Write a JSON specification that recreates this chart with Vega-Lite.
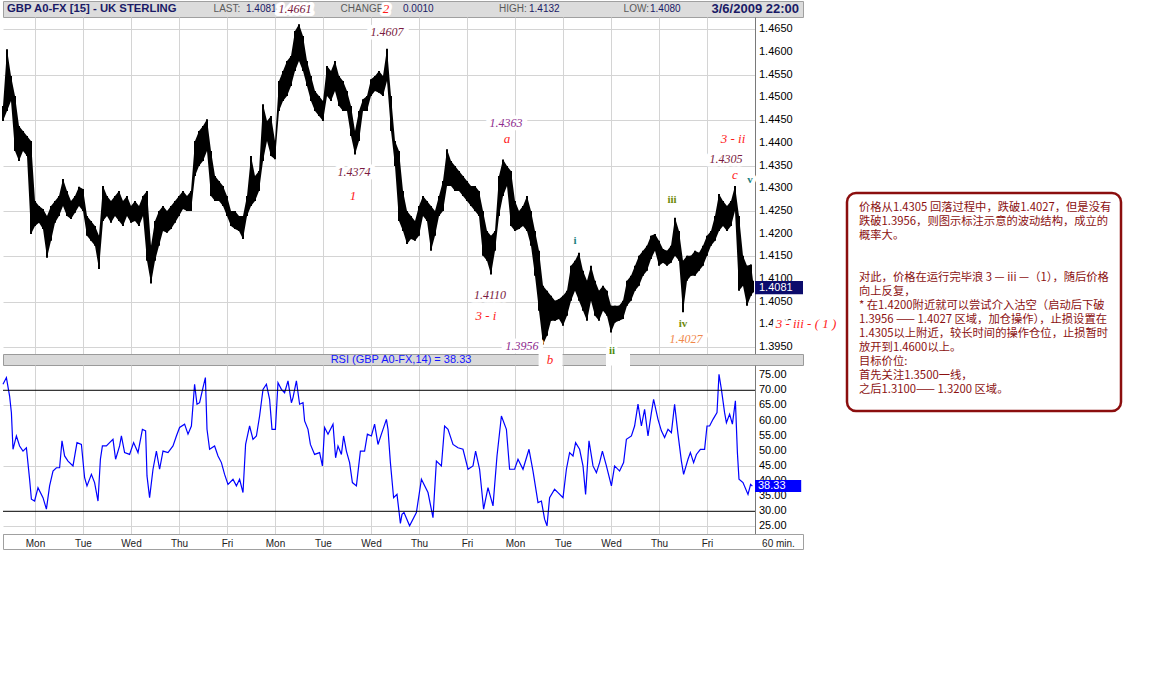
{
  "$schema": "https://vega.github.io/schema/vega-lite/v6.json",
  "padding": 0,
  "background": "white",
  "spacing": 8,
  "config": {"view": {"stroke": null}, "font": "Liberation Sans", "axis": {"labelOverlap": false}},
  "datasets": {
    "head": [
      {"h": 2, "t": "GBP A0-FX [15] - UK STERLING", "k": "name"},
      {"h": 105.3, "t": "LAST:", "k": "lab"},
      {"h": 121.5, "t": "1.4081", "k": "val"},
      {"h": 168.8, "t": "CHANGE", "k": "lab"},
      {"h": 200, "t": "0.0010", "k": "val"},
      {"h": 248, "t": "HIGH:", "k": "lab"},
      {"h": 263, "t": "1.4132", "k": "val"},
      {"h": 310.3, "t": "LOW:", "k": "lab"},
      {"h": 323.5, "t": "1.4080", "k": "val"},
      {"h": 398, "t": "3/6/2009 22:00", "k": "date"},
      {"h": 146, "t": "1.4661", "k": "lv"},
      {"h": 191.5, "t": "2", "k": "wv"}
    ],
    "strip": [
      {"h": 273.8, "t": "", "k": "box"},
      {"h": 307.5, "t": "", "k": "box"},
      {"h": 199, "t": "RSI (GBP A0-FX,14) = 38.33", "k": "title"},
      {"h": 273.5, "t": "b", "k": "b"},
      {"h": 304.5, "t": "ii", "k": "ii"}
    ],
    "pticks": [
      {"p": 1.395, "t": "1.3950"}, {"p": 1.4, "t": "1.4000"}, {"p": 1.405, "t": "1.4050"}, {"p": 1.41, "t": "1.4100"},
      {"p": 1.415, "t": "1.4150"}, {"p": 1.42, "t": "1.4200"}, {"p": 1.425, "t": "1.4250"}, {"p": 1.43, "t": "1.4300"},
      {"p": 1.435, "t": "1.4350"}, {"p": 1.44, "t": "1.4400"}, {"p": 1.445, "t": "1.4450"}, {"p": 1.45, "t": "1.4500"},
      {"p": 1.455, "t": "1.4550"}, {"p": 1.46, "t": "1.4600"}, {"p": 1.465, "t": "1.4650"}
    ],
    "rticks": [
      {"v": 25, "t": "25.00"}, {"v": 30, "t": "30.00"}, {"v": 35, "t": "35.00"}, {"v": 40, "t": "40.00"},
      {"v": 45, "t": "45.00"}, {"v": 50, "t": "50.00"}, {"v": 55, "t": "55.00"}, {"v": 60, "t": "60.00"},
      {"v": 65, "t": "65.00"}, {"v": 70, "t": "70.00"}, {"v": 75, "t": "75.00"}
    ],
    "lab": [
      {"h": 192, "p": 1.4644, "t": "1.4607", "c": "lv"},
      {"h": 175.5, "p": 1.4336, "t": "1.4374", "c": "lv"},
      {"h": 175, "p": 1.4283, "t": "1", "c": "wv"},
      {"h": 251.5, "p": 1.4444, "t": "1.4363", "c": "lp"},
      {"h": 252, "p": 1.4408, "t": "a", "c": "wv"},
      {"h": 243.5, "p": 1.4065, "t": "1.4110", "c": "lv"},
      {"h": 241.5, "p": 1.4019, "t": "3 - i", "c": "wv"},
      {"h": 259.5, "p": 1.3953, "t": "1.3956", "c": "lp"},
      {"h": 286, "p": 1.4184, "t": "i", "c": "rt"},
      {"h": 334.5, "p": 1.4274, "t": "iii", "c": "rg"},
      {"h": 340, "p": 1.4001, "t": "iv", "c": "rg"},
      {"h": 341.5, "p": 1.3968, "t": "1.4027", "c": "lo"},
      {"h": 365, "p": 1.4409, "t": "3 - ii", "c": "wv"},
      {"h": 361.5, "p": 1.4365, "t": "1.4305", "c": "lv"},
      {"h": 366, "p": 1.4329, "t": "c", "c": "wv"},
      {"h": 373.5, "p": 1.4318, "t": "v", "c": "rt"},
      {"h": 401.5, "p": 1.4001, "t": "3 - iii - ( 1 )", "c": "wv"}
    ],
    "note": [
      {"line": 0, "t": "价格从1.4305 回落过程中，跌破1.4027，但是没有"},
      {"line": 1, "t": "跌破1.3956，则图示标注示意的波动结构，成立的"},
      {"line": 2, "t": "概率大。"},
      {"line": 5, "t": "对此，价格在运行完毕浪 3 — iii —（1），随后价格"},
      {"line": 6, "t": "向上反复，"},
      {"line": 7, "t": "* 在1.4200附近就可以尝试介入沽空（启动后下破"},
      {"line": 8, "t": "1.3956 —— 1.4027 区域，加仓操作），止损设置在"},
      {"line": 9, "t": "1.4305以上附近，较长时间的操作仓位，止损暂时"},
      {"line": 10, "t": "放开到1.4600以上。"},
      {"line": 11, "t": "目标价位:"},
      {"line": 12, "t": "首先关注1.3500一线，"},
      {"line": 13, "t": "之后1.3100—— 1.3200 区域。"}
    ],
    "px": [
      {"h":0,"hi":1.4481,"lo":1.4448},{"h":2,"hi":1.4606,"lo":1.4470},{"h":4,"hi":1.4547,"lo":1.4492},{"h":6,"hi":1.4503,"lo":1.4382},
      {"h":8,"hi":1.4437,"lo":1.4360},{"h":10,"hi":1.4426,"lo":1.4382},{"h":12,"hi":1.4415,"lo":1.4371},{"h":14,"hi":1.4404,"lo":1.4199},
      {"h":16,"hi":1.4272,"lo":1.4217},{"h":18,"hi":1.4261,"lo":1.4224},{"h":20,"hi":1.4254,"lo":1.4210},{"h":22,"hi":1.4239,"lo":1.4147},
      {"h":24,"hi":1.4261,"lo":1.4184},{"h":26,"hi":1.4272,"lo":1.4224},{"h":28,"hi":1.4283,"lo":1.4239},{"h":30,"hi":1.4320,"lo":1.4261},
      {"h":32,"hi":1.4294,"lo":1.4239},{"h":34,"hi":1.4272,"lo":1.4232},{"h":36,"hi":1.4283,"lo":1.4246},{"h":38,"hi":1.4303,"lo":1.4261},
      {"h":40,"hi":1.4298,"lo":1.4250},{"h":42,"hi":1.4239,"lo":1.4195},{"h":44,"hi":1.4228,"lo":1.4184},{"h":46,"hi":1.4217,"lo":1.4173},
      {"h":48,"hi":1.4195,"lo":1.4122},{"h":50,"hi":1.4305,"lo":1.4228},{"h":52,"hi":1.4283,"lo":1.4239},{"h":54,"hi":1.4272,"lo":1.4224},
      {"h":56,"hi":1.4283,"lo":1.4239},{"h":58,"hi":1.4294,"lo":1.4228},{"h":60,"hi":1.4272,"lo":1.4217},{"h":62,"hi":1.4283,"lo":1.4239},
      {"h":64,"hi":1.4261,"lo":1.4224},{"h":66,"hi":1.4272,"lo":1.4228},{"h":68,"hi":1.4261,"lo":1.4217},{"h":70,"hi":1.4283,"lo":1.4239},
      {"h":72,"hi":1.4294,"lo":1.4140},{"h":74,"hi":1.4173,"lo":1.4090},{"h":76,"hi":1.4228,"lo":1.4140},{"h":78,"hi":1.4250,"lo":1.4173},
      {"h":80,"hi":1.4261,"lo":1.4206},{"h":82,"hi":1.4250,"lo":1.4202},{"h":84,"hi":1.4261,"lo":1.4210},{"h":86,"hi":1.4272,"lo":1.4224},
      {"h":88,"hi":1.4283,"lo":1.4239},{"h":90,"hi":1.4294,"lo":1.4254},{"h":92,"hi":1.4283,"lo":1.4250},{"h":94,"hi":1.4294,"lo":1.4250},
      {"h":96,"hi":1.4404,"lo":1.4327},{"h":98,"hi":1.4426,"lo":1.4349},{"h":100,"hi":1.4437,"lo":1.4360},{"h":102,"hi":1.4452,"lo":1.4382},
      {"h":104,"hi":1.4382,"lo":1.4283},{"h":106,"hi":1.4327,"lo":1.4272},{"h":108,"hi":1.4316,"lo":1.4272},{"h":110,"hi":1.4305,"lo":1.4261},
      {"h":112,"hi":1.4283,"lo":1.4239},{"h":114,"hi":1.4250,"lo":1.4217},{"h":116,"hi":1.4250,"lo":1.4210},{"h":118,"hi":1.4239,"lo":1.4206},
      {"h":120,"hi":1.4239,"lo":1.4188},{"h":122,"hi":1.4283,"lo":1.4239},{"h":124,"hi":1.4371,"lo":1.4261},{"h":126,"hi":1.4327,"lo":1.4272},
      {"h":128,"hi":1.4338,"lo":1.4294},{"h":130,"hi":1.4485,"lo":1.4360},{"h":132,"hi":1.4448,"lo":1.4404},{"h":134,"hi":1.4459,"lo":1.4371},
      {"h":136,"hi":1.4404,"lo":1.4364},{"h":138,"hi":1.4536,"lo":1.4470},{"h":140,"hi":1.4558,"lo":1.4492},{"h":142,"hi":1.4580,"lo":1.4503},
      {"h":144,"hi":1.4591,"lo":1.4525},{"h":146,"hi":1.4646,"lo":1.4558},{"h":148,"hi":1.4661,"lo":1.4580},{"h":150,"hi":1.4635,"lo":1.4558},
      {"h":152,"hi":1.4580,"lo":1.4525},{"h":154,"hi":1.4547,"lo":1.4492},{"h":156,"hi":1.4514,"lo":1.4470},{"h":158,"hi":1.4503,"lo":1.4459},
      {"h":160,"hi":1.4492,"lo":1.4448},{"h":162,"hi":1.4569,"lo":1.4503},{"h":164,"hi":1.4558,"lo":1.4492},{"h":166,"hi":1.4580,"lo":1.4514},
      {"h":168,"hi":1.4547,"lo":1.4481},{"h":170,"hi":1.4536,"lo":1.4470},{"h":172,"hi":1.4514,"lo":1.4470},{"h":174,"hi":1.4481,"lo":1.4415},
      {"h":176,"hi":1.4426,"lo":1.4374},{"h":178,"hi":1.4470,"lo":1.4404},{"h":180,"hi":1.4496,"lo":1.4470},{"h":182,"hi":1.4503,"lo":1.4470},
      {"h":184,"hi":1.4540,"lo":1.4503},{"h":186,"hi":1.4547,"lo":1.4514},{"h":188,"hi":1.4558,"lo":1.4510},{"h":190,"hi":1.4547,"lo":1.4503},
      {"h":192,"hi":1.4607,"lo":1.4536},{"h":194,"hi":1.4503,"lo":1.4426},{"h":196,"hi":1.4404,"lo":1.4349},{"h":198,"hi":1.4382,"lo":1.4228},
      {"h":200,"hi":1.4294,"lo":1.4206},{"h":202,"hi":1.4250,"lo":1.4177},{"h":204,"hi":1.4239,"lo":1.4188},{"h":206,"hi":1.4228,"lo":1.4184},
      {"h":208,"hi":1.4261,"lo":1.4195},{"h":210,"hi":1.4283,"lo":1.4239},{"h":212,"hi":1.4272,"lo":1.4228},{"h":214,"hi":1.4261,"lo":1.4162},
      {"h":216,"hi":1.4250,"lo":1.4195},{"h":218,"hi":1.4283,"lo":1.4239},{"h":220,"hi":1.4316,"lo":1.4250},{"h":222,"hi":1.4386,"lo":1.4305},
      {"h":224,"hi":1.4360,"lo":1.4305},{"h":226,"hi":1.4349,"lo":1.4294},{"h":228,"hi":1.4338,"lo":1.4294},{"h":230,"hi":1.4327,"lo":1.4283},
      {"h":232,"hi":1.4316,"lo":1.4272},{"h":234,"hi":1.4305,"lo":1.4261},{"h":236,"hi":1.4305,"lo":1.4250},{"h":238,"hi":1.4294,"lo":1.4239},
      {"h":240,"hi":1.4250,"lo":1.4151},{"h":242,"hi":1.4206,"lo":1.4140},{"h":244,"hi":1.4195,"lo":1.4110},{"h":246,"hi":1.4206,"lo":1.4162},
      {"h":248,"hi":1.4327,"lo":1.4239},{"h":250,"hi":1.4363,"lo":1.4283},{"h":252,"hi":1.4349,"lo":1.4305},{"h":254,"hi":1.4338,"lo":1.4217},
      {"h":256,"hi":1.4272,"lo":1.4206},{"h":258,"hi":1.4250,"lo":1.4210},{"h":260,"hi":1.4261,"lo":1.4217},{"h":262,"hi":1.4283,"lo":1.4206},
      {"h":264,"hi":1.4250,"lo":1.4173},{"h":266,"hi":1.4206,"lo":1.4107},{"h":268,"hi":1.4162,"lo":1.4030},{"h":270,"hi":1.4085,"lo":1.3956},
      {"h":272,"hi":1.4074,"lo":1.3975},{"h":274,"hi":1.4063,"lo":1.4008},{"h":276,"hi":1.4052,"lo":1.4008},{"h":278,"hi":1.4056,"lo":1.4012},
      {"h":280,"hi":1.4063,"lo":1.3997},{"h":282,"hi":1.4074,"lo":1.4019},{"h":284,"hi":1.4129,"lo":1.4052},{"h":286,"hi":1.4140,"lo":1.4074},
      {"h":288,"hi":1.4158,"lo":1.4052},{"h":290,"hi":1.4118,"lo":1.4030},{"h":292,"hi":1.4096,"lo":1.4008},{"h":294,"hi":1.4129,"lo":1.4052},
      {"h":296,"hi":1.4096,"lo":1.4019},{"h":298,"hi":1.4074,"lo":1.4008},{"h":300,"hi":1.4085,"lo":1.4030},{"h":302,"hi":1.4074,"lo":1.4019},
      {"h":304,"hi":1.4041,"lo":1.3982},{"h":306,"hi":1.4041,"lo":1.4004},{"h":308,"hi":1.4041,"lo":1.4008},{"h":310,"hi":1.4052,"lo":1.4012},
      {"h":312,"hi":1.4096,"lo":1.4041},{"h":314,"hi":1.4107,"lo":1.4052},{"h":316,"hi":1.4129,"lo":1.4074},{"h":318,"hi":1.4151,"lo":1.4085},
      {"h":320,"hi":1.4162,"lo":1.4107},{"h":322,"hi":1.4173,"lo":1.4118},{"h":324,"hi":1.4195,"lo":1.4144},{"h":326,"hi":1.4199,"lo":1.4162},
      {"h":328,"hi":1.4184,"lo":1.4129},{"h":330,"hi":1.4166,"lo":1.4136},{"h":332,"hi":1.4162,"lo":1.4129},{"h":334,"hi":1.4173,"lo":1.4136},
      {"h":336,"hi":1.4235,"lo":1.4151},{"h":338,"hi":1.4206,"lo":1.4140},{"h":340,"hi":1.4140,"lo":1.4027},{"h":342,"hi":1.4151,"lo":1.4096},
      {"h":344,"hi":1.4151,"lo":1.4107},{"h":346,"hi":1.4162,"lo":1.4107},{"h":348,"hi":1.4158,"lo":1.4118},{"h":350,"hi":1.4173,"lo":1.4129},
      {"h":352,"hi":1.4195,"lo":1.4151},{"h":354,"hi":1.4206,"lo":1.4173},{"h":356,"hi":1.4239,"lo":1.4184},{"h":358,"hi":1.4287,"lo":1.4206},
      {"h":360,"hi":1.4272,"lo":1.4217},{"h":362,"hi":1.4261,"lo":1.4206},{"h":364,"hi":1.4272,"lo":1.4217},{"h":366,"hi":1.4305,"lo":1.4250},
      {"h":368,"hi":1.4239,"lo":1.4074},{"h":370,"hi":1.4151,"lo":1.4085},{"h":372,"hi":1.4129,"lo":1.4041},{"h":374,"hi":1.4132,"lo":1.4063},
      {"h":375,"hi":1.4096,"lo":1.4070}
    ],
    "rsi": [
      {"h":0,"v":72.0},{"h":1.7,"v":74.2},{"h":3.3,"v":68.1},{"h":4.2,"v":62.6},{"h":5,"v":50.5},{"h":6.7,"v":54.9},{"h":8.3,"v":51.6},{"h":10,"v":49.9},
      {"h":11.7,"v":51.0},{"h":13.3,"v":40.6},{"h":14.2,"v":34.0},{"h":15.8,"v":33.4},{"h":17.5,"v":37.8},{"h":20,"v":34.5},{"h":21.7,"v":30.7},{"h":23.3,"v":38.4},
      {"h":25,"v":43.3},{"h":26.7,"v":44.4},{"h":28.3,"v":44.4},{"h":29.5,"v":53.3},{"h":30.8,"v":48.3},{"h":32.5,"v":46.6},{"h":35,"v":45.0},{"h":37,"v":52.7},
      {"h":39.2,"v":52.1},{"h":40.8,"v":41.1},{"h":42,"v":38.4},{"h":44.2,"v":42.2},{"h":45.8,"v":39.5},{"h":47.5,"v":33.4},{"h":48.7,"v":47.2},{"h":49.7,"v":51.6},
      {"h":51.7,"v":51.6},{"h":53.3,"v":52.7},{"h":55,"v":53.8},{"h":56.3,"v":47.2},{"h":58.3,"v":51.6},{"h":59.2,"v":54.9},{"h":60.8,"v":49.4},{"h":63.3,"v":48.8},
      {"h":65.3,"v":52.7},{"h":67.5,"v":49.4},{"h":69.7,"v":57.1},{"h":71.3,"v":56.6},{"h":72,"v":41.7},{"h":73.3,"v":34.5},{"h":75,"v":43.9},{"h":76.7,"v":49.9},
      {"h":78.3,"v":43.9},{"h":80,"v":49.9},{"h":82.5,"v":49.4},{"h":85,"v":51.6},{"h":86.7,"v":54.9},{"h":88.3,"v":57.7},{"h":90.8,"v":58.8},{"h":92.5,"v":55.5},
      {"h":94.2,"v":58.2},{"h":95.8,"v":72.0},{"h":97,"v":65.4},{"h":98.3,"v":65.9},{"h":100,"v":70.9},{"h":101.2,"v":74.2},{"h":102,"v":57.1},{"h":103.3,"v":50.5},
      {"h":105.8,"v":51.6},{"h":107.5,"v":48.3},{"h":109.2,"v":46.1},{"h":110.8,"v":42.2},{"h":112.5,"v":38.9},{"h":115,"v":40.6},{"h":116.7,"v":38.4},{"h":118.3,"v":40.6},
      {"h":120,"v":36.2},{"h":121.3,"v":52.1},{"h":123.3,"v":58.2},{"h":125,"v":53.8},{"h":126.7,"v":54.9},{"h":128.3,"v":61.5},{"h":130,"v":70.3},{"h":131.7,"v":72.0},
      {"h":133.3,"v":67.0},{"h":134.5,"v":57.1},{"h":136.2,"v":57.1},{"h":137.5,"v":72.5},{"h":139.2,"v":70.3},{"h":140.8,"v":69.2},{"h":142.5,"v":73.1},{"h":144.2,"v":65.9},
      {"h":145,"v":67.6},{"h":146.7,"v":73.1},{"h":148.3,"v":65.4},{"h":150,"v":65.9},{"h":150.8,"v":59.9},{"h":152.5,"v":57.1},{"h":153.7,"v":52.1},{"h":155.8,"v":48.8},
      {"h":158.3,"v":49.4},{"h":159.7,"v":45.0},{"h":160.8,"v":57.7},{"h":162.5,"v":55.5},{"h":165,"v":58.8},{"h":166.3,"v":47.7},{"h":167.5,"v":51.6},{"h":169.2,"v":48.8},
      {"h":170.3,"v":54.9},{"h":171.7,"v":49.9},{"h":173.3,"v":46.1},{"h":174.7,"v":39.5},{"h":176.7,"v":38.4},{"h":178.7,"v":49.9},{"h":180.8,"v":49.9},{"h":182.2,"v":55.5},
      {"h":184.2,"v":54.9},{"h":185.8,"v":58.8},{"h":187.5,"v":52.1},{"h":189.2,"v":55.5},{"h":191.7,"v":60.4},{"h":192.5,"v":57.1},{"h":193.7,"v":46.1},{"h":195.3,"v":34.5},
      {"h":197,"v":35.6},{"h":198.7,"v":26.0},{"h":199.5,"v":29.0},{"h":200.5,"v":29.6},{"h":203.3,"v":25.2},{"h":206.7,"v":29.6},{"h":209.2,"v":40.6},{"h":212.5,"v":36.2},
      {"h":215,"v":27.9},{"h":216.7,"v":46.6},{"h":219.2,"v":45.0},{"h":220.8,"v":58.2},{"h":222.5,"v":57.1},{"h":225,"v":52.1},{"h":227.5,"v":51.0},{"h":230,"v":50.5},
      {"h":232.5,"v":43.9},{"h":235,"v":45.0},{"h":236.3,"v":49.9},{"h":238.3,"v":43.9},{"h":240.3,"v":30.7},{"h":242.5,"v":37.8},{"h":245,"v":31.8},{"h":247,"v":48.3},
      {"h":249.2,"v":61.5},{"h":251.7,"v":57.1},{"h":253.3,"v":43.9},{"h":255.8,"v":43.9},{"h":257.5,"v":47.2},{"h":260,"v":43.9},{"h":263,"v":50.5},{"h":265,"v":43.3},
      {"h":267.5,"v":32.9},{"h":269.2,"v":33.4},{"h":270.8,"v":27.4},{"h":272,"v":25.2},{"h":273.3,"v":34.5},{"h":275.8,"v":37.3},{"h":277.5,"v":36.2},{"h":280,"v":34.5},
      {"h":281.7,"v":43.9},{"h":283.3,"v":49.4},{"h":285,"v":48.3},{"h":286.3,"v":52.7},{"h":288.3,"v":50.5},{"h":290,"v":45.0},{"h":291.3,"v":35.6},{"h":293,"v":53.3},
      {"h":295,"v":45.0},{"h":296.7,"v":42.8},{"h":298.3,"v":46.1},{"h":299.7,"v":49.9},{"h":301.7,"v":45.0},{"h":304.2,"v":38.4},{"h":305.8,"v":45.0},{"h":308.3,"v":43.3},
      {"h":310.3,"v":46.1},{"h":311.7,"v":53.8},{"h":314.2,"v":54.9},{"h":315.8,"v":58.2},{"h":317.5,"v":65.4},{"h":319.2,"v":58.2},{"h":320.8,"v":63.7},{"h":322.5,"v":54.9},
      {"h":324.2,"v":62.6},{"h":325.3,"v":67.0},{"h":327.5,"v":60.4},{"h":329.2,"v":56.6},{"h":330.8,"v":54.4},{"h":332.5,"v":57.1},{"h":334.2,"v":56.0},{"h":335.8,"v":65.4},
      {"h":337.5,"v":55.5},{"h":339.2,"v":46.6},{"h":340.3,"v":42.2},{"h":342.5,"v":47.2},{"h":343.7,"v":49.4},{"h":345.3,"v":46.1},{"h":346.7,"v":48.8},{"h":348.7,"v":50.5},
      {"h":350.8,"v":50.5},{"h":352,"v":58.2},{"h":353.3,"v":58.2},{"h":355,"v":60.4},{"h":357,"v":62.6},{"h":358,"v":75.3},{"h":359.2,"v":70.3},{"h":360.8,"v":62.6},
      {"h":361.7,"v":59.3},{"h":363.3,"v":62.1},{"h":364.7,"v":58.8},{"h":366.2,"v":66.5},{"h":367.2,"v":49.4},{"h":368,"v":40.6},{"h":370,"v":39.5},{"h":372.5,"v":35.6},
      {"h":373.8,"v":38.9},{"h":374.7,"v":38.33}
    ]
  },
  "hconcat": [
    {
      "spacing": 0,
      "bounds": "flush",
      "vconcat": [
        {
          "width": 800,
          "height": 16,
          "view": {"fill": "#dcdcdc", "stroke": "#a0a0a0"},
          "data": {"name": "head"},
          "encoding": {"x": {"field": "h", "type": "quantitative", "scale": {"domain": [0, 400], "nice": false, "zero": false}, "axis": null}},
          "layer": [
            {"transform": [{"filter": "datum.k == 'name'"}], "mark": {"type": "text", "align": "left", "fontSize": 11.3, "fontWeight": "bold", "fill": "#1a1a66"}, "encoding": {"text": {"field": "t"}}},
            {"transform": [{"filter": "datum.k == 'lab'"}], "mark": {"type": "text", "align": "left", "fontSize": 10, "fill": "#5a5a5a"}, "encoding": {"text": {"field": "t"}}},
            {"transform": [{"filter": "datum.k == 'val'"}], "mark": {"type": "text", "align": "left", "fontSize": 10, "fill": "#1a1a66"}, "encoding": {"text": {"field": "t"}}},
            {"transform": [{"filter": "datum.k == 'date'"}], "mark": {"type": "text", "align": "right", "fontSize": 13, "fontWeight": "bold", "fill": "#1a1a66"}, "encoding": {"text": {"field": "t"}}},
            {"transform": [{"filter": "datum.k == 'lv' || datum.k == 'wv'"}], "mark": {"type": "text", "font": "Liberation Serif", "fontStyle": "italic", "fontSize": 13, "fill": "white", "stroke": "white", "strokeWidth": 6, "strokeJoin": "round"}, "encoding": {"text": {"field": "t"}}},
            {"transform": [{"filter": "datum.k == 'lv'"}], "mark": {"type": "text", "font": "Liberation Serif", "fontStyle": "italic", "fontSize": 12, "fill": "#7a1a40"}, "encoding": {"text": {"field": "t"}}},
            {"transform": [{"filter": "datum.k == 'wv'"}], "mark": {"type": "text", "font": "Liberation Serif", "fontStyle": "italic", "fontSize": 13, "fill": "#ff1a1a"}, "encoding": {"text": {"field": "t"}}}
          ]
        },
        {
          "width": 752,
          "height": 337,
          "layer": [
            {
              "data": {"name": "px"},
              "mark": {"type": "area", "fill": "black"},
              "encoding": {
                "x": {"field": "h", "type": "quantitative", "scale": {"domain": [0, 376], "nice": false, "zero": false},
                      "axis": {"values": [16,40,64,88,112,136,160,184,208,232,256,280,304,328,352], "labels": false, "ticks": false, "domain": false, "grid": true, "gridColor": "#d4d4d4", "title": null}},
                "y": {"field": "hi", "type": "quantitative", "scale": {"domain": [1.39348, 1.46771], "nice": false, "zero": false},
                      "axis": {"orient": "right", "values": [1.395,1.4,1.405,1.41,1.415,1.42,1.425,1.43,1.435,1.44,1.445,1.45,1.455,1.46,1.465], "labels": false, "grid": true, "gridColor": "#d4d4d4", "ticks": false, "domainColor": "#7a7a7a", "title": null}},
                "y2": {"field": "lo"}
              }
            },
            {
              "data": {"name": "px"},
              "mark": {"type": "rule", "stroke": "black", "strokeWidth": 2},
              "encoding": {"x": {"field": "h", "type": "quantitative"}, "y": {"field": "hi", "type": "quantitative"}, "y2": {"field": "lo"}}
            },
            {
              "data": {"name": "pticks"},
              "mark": {"type": "text", "align": "left", "dx": 4, "fontSize": 11, "fill": "black"},
              "encoding": {"x": {"datum": 376}, "y": {"field": "p", "type": "quantitative"}, "text": {"field": "t"}}
            },
            {
              "data": {"name": "lab"},
              "mark": {"type": "text", "font": "Liberation Serif", "fontStyle": "italic", "fontWeight": "bold", "fontSize": 13, "fill": "white", "stroke": "white", "strokeWidth": 7, "strokeJoin": "round"},
              "encoding": {"x": {"field": "h", "type": "quantitative"}, "y": {"field": "p", "type": "quantitative"}, "text": {"field": "t"}}
            },
            {
              "data": {"name": "lab"},
              "transform": [{"filter": "datum.c == 'lv' || datum.c == 'lp' || datum.c == 'lo'"}],
              "mark": {"type": "text", "font": "Liberation Serif", "fontStyle": "italic", "fontSize": 12},
              "encoding": {"x": {"field": "h", "type": "quantitative"}, "y": {"field": "p", "type": "quantitative"}, "text": {"field": "t"},
                "color": {"field": "c", "type": "nominal", "scale": {"domain": ["lv","lp","lo","wv","rt","rg"], "range": ["#7a1a40","#8e2a8e","#f0874a","#ff1a1a","#1a8080","#6e8a0a"]}, "legend": null}}
            },
            {
              "data": {"name": "lab"},
              "transform": [{"filter": "datum.c == 'wv'"}],
              "mark": {"type": "text", "font": "Liberation Serif", "fontStyle": "italic", "fontSize": 13},
              "encoding": {"x": {"field": "h", "type": "quantitative"}, "y": {"field": "p", "type": "quantitative"}, "text": {"field": "t"},
                "color": {"field": "c", "type": "nominal", "legend": null}}
            },
            {
              "data": {"name": "lab"},
              "transform": [{"filter": "datum.c == 'rt' || datum.c == 'rg'"}],
              "mark": {"type": "text", "font": "Liberation Serif", "fontWeight": "bold", "fontSize": 11},
              "encoding": {"x": {"field": "h", "type": "quantitative"}, "y": {"field": "p", "type": "quantitative"}, "text": {"field": "t"},
                "color": {"field": "c", "type": "nominal", "legend": null}}
            },
            {
              "data": {"values": [{"h": 376, "p": 1.4081, "t": "1.4081"}]},
              "mark": {"type": "point", "shape": "M0,-0.55H4V0.55H0Z", "size": 576, "filled": true, "color": "#0c0c6c", "opacity": 1, "strokeWidth": 0},
              "encoding": {"x": {"field": "h", "type": "quantitative"}, "y": {"field": "p", "type": "quantitative"}}
            },
            {
              "data": {"values": [{"h": 376, "p": 1.4081, "t": "1.4081"}]},
              "mark": {"type": "text", "align": "left", "dx": 4, "fill": "white", "fontSize": 11},
              "encoding": {"x": {"field": "h", "type": "quantitative"}, "y": {"field": "p", "type": "quantitative"}, "text": {"field": "t"}}
            }
          ]
        },
        {
          "width": 800,
          "height": 11,
          "view": {"fill": "#d9d9d9", "stroke": "#9a9a9a"},
          "data": {"name": "strip"},
          "encoding": {"x": {"field": "h", "type": "quantitative", "scale": {"domain": [0, 400], "nice": false, "zero": false}, "axis": null}},
          "layer": [
            {"transform": [{"filter": "datum.k == 'box'"}], "mark": {"type": "point", "shape": "M-1,-0.62H1V0.62H-1Z", "size": 576, "filled": true, "color": "white", "opacity": 1, "strokeWidth": 0}},
            {"transform": [{"filter": "datum.k == 'title'"}], "mark": {"type": "text", "fontSize": 11, "fill": "#1414ff"}, "encoding": {"text": {"field": "t"}}},
            {"transform": [{"filter": "datum.k == 'b'"}], "mark": {"type": "text", "font": "Liberation Serif", "fontStyle": "italic", "fontSize": 13, "fill": "#ff1a1a"}, "encoding": {"text": {"field": "t"}}},
            {"transform": [{"filter": "datum.k == 'ii'"}], "mark": {"type": "text", "font": "Liberation Serif", "fontWeight": "bold", "fontSize": 11, "fill": "white", "stroke": "white", "strokeWidth": 6, "dy": -9}, "encoding": {"text": {"field": "t"}}},
            {"transform": [{"filter": "datum.k == 'ii'"}], "mark": {"type": "text", "font": "Liberation Serif", "fontWeight": "bold", "fontSize": 11, "fill": "#4f8a10", "dy": -9}, "encoding": {"text": {"field": "t"}}}
          ]
        },
        {
          "width": 752,
          "height": 169,
          "layer": [
            {
              "data": {"name": "rsi"},
              "mark": {"type": "line", "color": "#0000ff", "strokeWidth": 1.2},
              "encoding": {
                "x": {"field": "h", "type": "quantitative", "scale": {"domain": [0, 376], "nice": false, "zero": false},
                      "axis": {"values": [16,40,64,88,112,136,160,184,208,232,256,280,304,328,352], "labelExpr": "['Mon','Tue','Wed','Thu','Fri'][round((datum.value-16)/24)%5]", "labelOverlap": false, "ticks": false, "domainColor": "#9a9a9a", "grid": true, "gridColor": "#d4d4d4", "labelFontSize": 10, "labelColor": "#222222", "labelPadding": 4, "labelFlush": false, "title": "60 min.", "titleX": 775, "titleY": 4, "titleBaseline": "top", "titleAlign": "center", "titleFontSize": 10, "titleFontWeight": "normal", "titleColor": "#222222"}},
                "y": {"field": "v", "type": "quantitative", "scale": {"domain": [22.5, 78.36], "nice": false, "zero": false},
                      "axis": {"orient": "right", "values": [25,30,35,40,45,50,55,60,65,70,75], "labels": false, "grid": true, "gridColor": "#d4d4d4", "ticks": false, "domainColor": "#7a7a7a", "title": null}}
              }
            },
            {"data": {"values": [{}]}, "mark": {"type": "rule", "color": "black", "strokeWidth": 1}, "encoding": {"y": {"datum": 70}}},
            {"data": {"values": [{}]}, "mark": {"type": "rule", "color": "black", "strokeWidth": 1}, "encoding": {"y": {"datum": 30}}},
            {
              "data": {"name": "rticks"},
              "mark": {"type": "text", "align": "left", "dx": 4, "fontSize": 11, "fill": "black"},
              "encoding": {"x": {"datum": 376}, "y": {"field": "v", "type": "quantitative"}, "text": {"field": "t"}}
            },
            {
              "data": {"values": [{"h": 376, "v": 38.33, "t": "38.33"}]},
              "mark": {"type": "point", "shape": "M0,-0.5H3.85V0.5H0Z", "size": 576, "filled": true, "color": "#0000ff", "opacity": 1, "strokeWidth": 0},
              "encoding": {"x": {"field": "h", "type": "quantitative"}, "y": {"field": "v", "type": "quantitative"}}
            },
            {
              "data": {"values": [{"h": 376, "v": 38.33, "t": "38.33"}]},
              "mark": {"type": "text", "align": "left", "dx": 3, "fill": "white", "fontSize": 11},
              "encoding": {"x": {"field": "h", "type": "quantitative"}, "y": {"field": "v", "type": "quantitative"}, "text": {"field": "t"}}
            }
          ]
        },
        {
          "width": 800,
          "height": 15,
          "view": {"stroke": "#a0a0a0", "strokeWidth": 1},
          "data": {"values": [{}]},
          "mark": {"type": "text"},
          "encoding": {"text": {"value": ""}}
        }
      ]
    },
    {
      "spacing": 0,
      "bounds": "flush",
      "vconcat": [
        {"width": 274, "height": 192, "data": {"values": [{}]}, "mark": {"type": "text"}, "encoding": {"text": {"value": ""}}},
        {
          "width": 274,
          "height": 218,
          "view": {"fill": "white", "stroke": "#8b0e0e", "strokeWidth": 2.5, "cornerRadius": 9},
          "data": {"name": "note"},
          "mark": {"type": "text", "align": "left", "dx": -125, "fontSize": 11.3, "font": "Noto Sans CJK SC", "fill": "#8b1010"},
          "encoding": {
            "y": {"field": "line", "type": "quantitative", "scale": {"domain": [-1.07, 14.52], "reverse": true, "nice": false, "zero": false}, "axis": null},
            "text": {"field": "t"}
          }
        }
      ]
    }
  ]
}
